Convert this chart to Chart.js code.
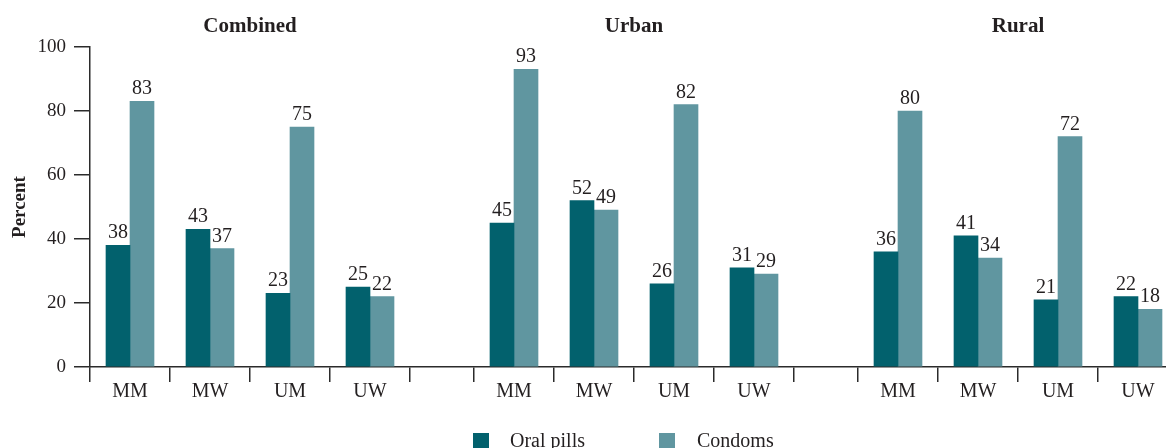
<!DOCTYPE html>
<html>
<head>
<meta charset="utf-8">
<script src="https://cdn.jsdelivr.net/npm/chart.js@4/dist/chart.umd.min.js"></script>
<style>
  html, body { margin: 0; padding: 0; background: #fff; }
  #wrap { position: relative; width: 1166px; height: 448px; overflow: hidden; }
  #legend { position: absolute; left: 473px; top: 430px; font: 20px 'Liberation Serif', serif; color: #231f20; white-space: nowrap; }
  #legend span.sw { position: absolute; top: 3px; width: 16px; height: 16px; }
  #legend span.tx { position: absolute; top: -1px; }
</style>
</head>
<body>
<div id="wrap">
  <canvas id="chart" width="1166" height="448"></canvas>
  <div id="legend">
    <span class="sw" style="left:0; background:#02616d"></span><span class="tx" style="left:37px">Oral pills</span>
    <span class="sw" style="left:186px; background:#6096a0"></span><span class="tx" style="left:224px">Condoms</span>
  </div>
</div>
<script>
// Data
const groups = ['Combined', 'Urban', 'Rural'];
const categories = ['MM', 'MW', 'UM', 'UW'];
const yTicks = [0, 20, 40, 60, 80, 100];
// Order: Combined MM..UW, Urban MM..UW, Rural MM..UW
const oralPills = [38, 43, 23, 25, 45, 52, 26, 31, 36, 41, 21, 22];
const condoms = [83, 37, 75, 22, 93, 49, 82, 29, 80, 34, 72, 18];

const textColor = '#231f20';
const axisColor = '#2b2b2b';
const font = "'Liberation Serif', 'Times New Roman', serif";

// x layout: each category is 1 unit wide, blank gap between groups
const groupGap = 0.8;
const groupSpan = categories.length + groupGap;
const xMax = 13.45;

function catCenter(g, i) {
  return g * groupSpan + i + 0.5;
}

const xTicks = [];
const labelAt = new Map();
const boundaries = new Set();
groups.forEach((g, gi) => {
  const start = gi * groupSpan;
  for (let i = 0; i <= categories.length; i++) {
    const b = start + i;
    if (b <= xMax) { xTicks.push(b); boundaries.add(b); }
    if (i < categories.length) {
      const c = catCenter(gi, i);
      xTicks.push(c);
      labelAt.set(c, categories[i]);
    }
  }
});

function points(values) {
  return values.map((v, k) => ({ x: catCenter(Math.floor(k / categories.length), k % categories.length), y: v }));
}

// Value labels above bars
const valueLabels = {
  id: 'valueLabels',
  afterDatasetsDraw(chart) {
    const ctx = chart.ctx;
    ctx.save();
    ctx.font = '20px ' + font;
    ctx.fillStyle = textColor;
    ctx.textAlign = 'center';
    ctx.textBaseline = 'alphabetic';
    chart.data.datasets.forEach((ds, di) => {
      chart.getDatasetMeta(di).data.forEach((bar, k) => {
        ctx.fillText(ds.data[k].y, bar.x, bar.y - 7);
      });
    });
    ctx.restore();
  }
};

// Group titles above each block of bars
const groupTitles = {
  id: 'groupTitles',
  afterDraw(chart) {
    const ctx = chart.ctx;
    const xs = chart.scales.x;
    ctx.save();
    ctx.font = 'bold 21px ' + font;
    ctx.fillStyle = textColor;
    ctx.textAlign = 'center';
    ctx.textBaseline = 'middle';
    groups.forEach((g, gi) => {
      const mid = gi * groupSpan + categories.length / 2;
      ctx.fillText(g, xs.getPixelForValue(mid), 27);
    });
    ctx.restore();
  }
};

new Chart(document.getElementById('chart'), {
  type: 'bar',
  data: {
    datasets: [
      { label: 'Oral pills', data: points(oralPills), backgroundColor: '#02616d', barThickness: 24 },
      { label: 'Condoms', data: points(condoms), backgroundColor: '#6096a0', barThickness: 24 }
    ]
  },
  options: {
    responsive: false,
    animation: false,
    layout: { padding: { top: 47, left: 0, right: 0, bottom: 0 } },
    plugins: {
      legend: { display: false },
      tooltip: { enabled: false }
    },
    scales: {
      x: {
        type: 'linear',
        min: 0,
        max: xMax,
        offset: false,
        afterBuildTicks: (scale) => { scale.ticks = xTicks.map(v => ({ value: v })); },
        afterFit: (scale) => { scale.height = 81; },
        grid: {
          offset: false,
          drawOnChartArea: false,
          tickLength: 15,
          lineWidth: 1.5,
          color: (c) => (c.tick && boundaries.has(c.tick.value)) ? axisColor : 'rgba(0,0,0,0)'
        },
        border: { color: axisColor, width: 1.5 },
        ticks: {
          autoSkip: false,
          maxRotation: 0,
          padding: -2,
          color: textColor,
          font: { family: font, size: 20 },
          callback: (v) => labelAt.get(v) || ''
        }
      },
      y: {
        min: 0,
        max: 100,
        afterBuildTicks: (scale) => { scale.ticks = yTicks.map(v => ({ value: v })); },
        afterFit: (scale) => { scale.width = 90; },
        grid: { drawOnChartArea: false, tickLength: 16, lineWidth: 1.5, color: axisColor },
        border: { color: axisColor, width: 1.5 },
        ticks: {
          padding: 8,
          color: textColor,
          font: { family: font, size: 19 }
        },
        title: {
          display: true,
          text: 'Percent',
          color: textColor,
          font: { family: font, size: 19, weight: 'bold' },
          padding: { top: 9, bottom: 0 }
        }
      }
    }
  },
  plugins: [valueLabels, groupTitles]
});
</script>
</body>
</html>
